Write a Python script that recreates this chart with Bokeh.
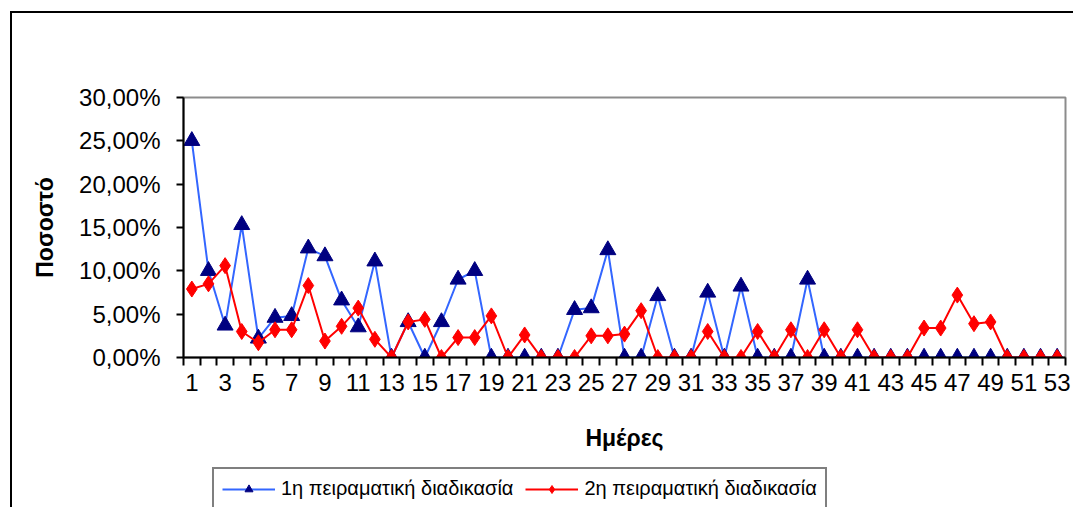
from bokeh.plotting import figure
from bokeh.models import (ColumnDataSource, Range1d, FixedTicker, Legend, LegendItem)
from bokeh.embed import file_html
from bokeh.resources import INLINE

# ---- data ----
days = list(range(1, 54))
series1_name = "1η πειραματική διαδικασία"
series2_name = "2η πειραματική διαδικασία"
series1 = [25.0, 10.0, 3.7, 15.3, 2.2, 4.6, 4.8, 12.6, 11.7, 6.6,
           3.5, 11.1, 0.0, 4.1, 0.0, 4.1, 9.0, 10.0, 0.0, 0.0,
           0.0, 0.0, 0.0, 5.5, 5.7, 12.4, 0.0, 0.0, 7.1, 0.0,
           0.0, 7.5, 0.0, 8.2, 0.0, 0.0, 0.0, 9.0, 0.0, 0.0,
           0.0, 0.0, 0.0, 0.0, 0.0, 0.0, 0.0, 0.0, 0.0, 0.0,
           0.0, 0.0, 0.0]
series2 = [7.9, 8.5, 10.6, 3.0, 1.7, 3.2, 3.2, 8.3, 1.9, 3.6,
           5.7, 2.1, 0.0, 4.1, 4.4, 0.0, 2.3, 2.3, 4.8, 0.0,
           2.6, 0.0, 0.0, 0.0, 2.5, 2.5, 2.7, 5.4, 0.0, 0.0,
           0.0, 3.0, 0.0, 0.0, 3.0, 0.0, 3.2, 0.0, 3.2, 0.0,
           3.2, 0.0, 0.0, 0.0, 3.4, 3.4, 7.2, 3.9, 4.1, 0.0,
           0.0, 0.0, 0.0]
y_ticks = [0, 5, 10, 15, 20, 25, 30]
y_tick_labels = ["0,00%", "5,00%", "10,00%", "15,00%", "20,00%", "25,00%", "30,00%"]
x_ticks = list(range(1, 54, 2))
x_tick_labels = [str(d) for d in x_ticks]
x_title = "Ημέρες"
y_title = "Ποσοστό"

FONT = "Liberation Sans"
BLUE_LINE, BLUE_MARK = "#3366FF", "#000080"
RED = "#FF0000"

src = ColumnDataSource(dict(x=days, s1=series1, s2=series2))

p = figure(frame_width=882, frame_height=260, output_backend="svg", toolbar_location=None,
           x_range=Range1d(0.5, 53.5), y_range=Range1d(0, 30),
           min_border_left=171, min_border_right=8, min_border_top=84, min_border_bottom=150)
p.styles = {"border-top": "2px solid black", "border-left": "2px solid black",
            "margin-left": "10px", "margin-top": "11px"}
p.background_fill_color = "white"
p.border_fill_color = "white"
p.outline_line_color = "#8c8c8c"
p.outline_line_width = 2
p.xgrid.visible = False
p.ygrid.visible = False

# y axis
ya = p.yaxis[0]
ya.ticker = FixedTicker(ticks=y_ticks)
ya.major_label_overrides = {t: l for t, l in zip(y_ticks, y_tick_labels)}
ya.axis_line_color = "black"
ya.axis_line_width = 2
ya.major_tick_line_color = "black"
ya.major_tick_line_width = 2
ya.major_tick_out = 7
ya.major_tick_in = 0
ya.minor_tick_line_color = None
ya.major_label_text_font = FONT
ya.major_label_text_font_size = "24px"
ya.major_label_text_color = "black"
ya.major_label_standoff = 16
ya.axis_label = y_title
ya.axis_label_text_font = FONT
ya.axis_label_text_font_style = "bold"
ya.axis_label_text_font_size = "23px"
ya.axis_label_text_color = "black"
ya.axis_label_standoff = 18

# x axis
xa = p.xaxis[0]
xa.ticker = FixedTicker(ticks=x_ticks, minor_ticks=[d + 0.5 for d in range(0, 54)])
xa.major_label_overrides = {t: l for t, l in zip(x_ticks, x_tick_labels)}
xa.axis_line_color = "black"
xa.axis_line_width = 2
xa.major_tick_line_color = None
xa.major_tick_out = 8
xa.major_tick_in = 0
xa.minor_tick_line_color = "black"
xa.minor_tick_line_width = 2
xa.minor_tick_out = 8
xa.minor_tick_in = 0
xa.major_label_text_font = FONT
xa.major_label_text_font_size = "24px"
xa.major_label_text_color = "black"
xa.major_label_standoff = 8
xa.axis_label = x_title
xa.axis_label_text_font = FONT
xa.axis_label_text_font_style = "bold"
xa.axis_label_text_font_size = "23px"
xa.axis_label_text_color = "black"
xa.axis_label_standoff = 31

p.line("x", "s1", source=src, line_color=BLUE_LINE, line_width=2)
p.scatter("x", "s1", source=src, marker="triangle", size=16,
          fill_color=BLUE_MARK, line_color=BLUE_MARK)
p.line("x", "s2", source=src, line_color=RED, line_width=2)
p.scatter("x", "s2", source=src, marker="diamond", size=16,
          fill_color=RED, line_color=RED)

# ---- legend: a second root figure, pulled up over the bottom of the chart ----
lf = figure(width=660, height=45, output_backend="svg", toolbar_location=None,
            x_range=Range1d(-3, -2), y_range=Range1d(-3, -2),
            x_axis_type=None, y_axis_type=None, min_border=0)
lf.styles = {"margin-left": "211px", "margin-top": "-41px"}
lf.outline_line_color = None
lf.background_fill_alpha = 0
lf.border_fill_alpha = 0
for g in lf.grid:
    g.visible = False
# legend renderers share the real data; the ranges keep them out of view
ll1 = lf.line("x", "s1", source=src, line_color=BLUE_LINE, line_width=2)
lm1 = lf.scatter("x", "s1", source=src, marker="triangle", size=12,
                 fill_color=BLUE_MARK, line_color=BLUE_MARK)
ll2 = lf.line("x", "s2", source=src, line_color=RED, line_width=2)
lm2 = lf.scatter("x", "s2", source=src, marker="diamond", size=12,
                 fill_color=RED, line_color=RED)

legend = Legend(items=[LegendItem(label=series1_name, renderers=[ll1, lm1]),
                       LegendItem(label=series2_name, renderers=[ll2, lm2])],
                orientation="horizontal", location="top_left",
                label_text_font=FONT, label_text_font_size="20px",
                label_text_color="black", glyph_width=53, glyph_height=20,
                label_standoff=6, spacing=12, padding=8, margin=1,
                border_line_color="black", border_line_width=2,
                background_fill_color="white", background_fill_alpha=1)
lf.add_layout(legend, "center")

open("out.html", "w").write(file_html([p, lf], INLINE))
